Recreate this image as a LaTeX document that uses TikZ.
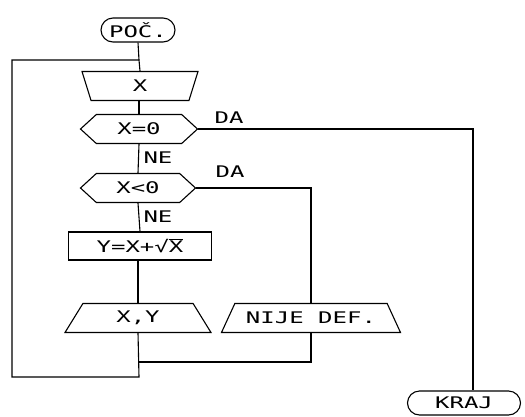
\documentclass[tikz,border=0pt]{standalone}
\usepackage{fontspec}
\usepackage{tikz}
\usetikzlibrary{shapes.geometric,shapes.misc,shapes.symbols,calc}
\newfontfamily\dotfont{DejaVu Sans Mono}[FakeStretch=1.5]

\begin{document}
\begin{tikzpicture}[
  x=1pt, y=-1pt, line width=1.1pt,
  font=\dotfont\fontsize{16}{18}\selectfont,
  term/.style={draw, rounded rectangle, minimum height=24pt, inner sep=2pt},
  inbox/.style={draw, trapezium, trapezium stretches body, trapezium left angle=120,
    trapezium right angle=120, minimum height=29pt, inner sep=2pt},
  outbox/.style={draw, trapezium, trapezium stretches body, minimum height=29pt, inner sep=2pt},
  test/.style={draw, signal, signal to=west and east, signal pointer angle=85,
    minimum height=29pt, inner sep=2pt},
  stepbox/.style={draw, rectangle, minimum height=28pt, inner sep=2pt},
  lbl/.style={inner sep=0pt}
]
\useasboundingbox (0,0) rectangle (525,416);
\node[term, minimum width=78pt] (poc) at (138,30) {POČ.};
\node[inbox, minimum width=116pt] (ulaz) at (140,86) {X};
\node[test, minimum width=117pt] (nula) at (139,129) {X=0};
\node[test, minimum width=115pt] (manje) at (138,188) {X<0};
\node[stepbox, minimum width=143pt] (racun) at (140,246) {Y=X+√$\overline{\mbox{X}}$};
\node[outbox, minimum width=146pt, trapezium left angle=45, trapezium right angle=45] (izlaz) at (138,318) {X,Y};
\node[outbox, minimum width=179pt, trapezium left angle=50, trapezium right angle=50] (greska) at (311,318) {NIJE DEF.};
\node[term, minimum width=117pt] (kraj) at (464,403) {KRAJ};

\coordinate (spoj) at (139,60);
\coordinate (dno) at (139,377);
\coordinate (lijevo) at (12,377);
\coordinate (gore) at (12,60);
\coordinate (desno) at (473,129);
\coordinate (vrh) at (139,362);

\draw (poc.south) -- (spoj) -- (ulaz.north);
\draw (ulaz.south) -- (nula.south |- ulaz.south) -- (nula.north);
\draw (nula.south) -- (manje.north);
\draw (manje.south) -- (racun.north);
\draw (racun.south) -- (racun.south -| izlaz.north) -- (izlaz.north);
\draw (izlaz.south) -- (dno) -- (lijevo) -- (gore) -- (spoj);
\draw (nula.east) -- (desno) -- (desno |- kraj.north);
\draw (manje.east) -- (greska.north |- manje.east) -- (greska.north);
\draw (greska.south) -- (greska.south |- vrh) -- (vrh);

\node[lbl] (da1) at (229,118) {DA};
\node[lbl] (da2) at (230,172) {DA};
\node[lbl] (ne1) at (158,158) {NE};
\node[lbl] (ne2) at (158,217) {NE};
\end{tikzpicture}
\end{document}
